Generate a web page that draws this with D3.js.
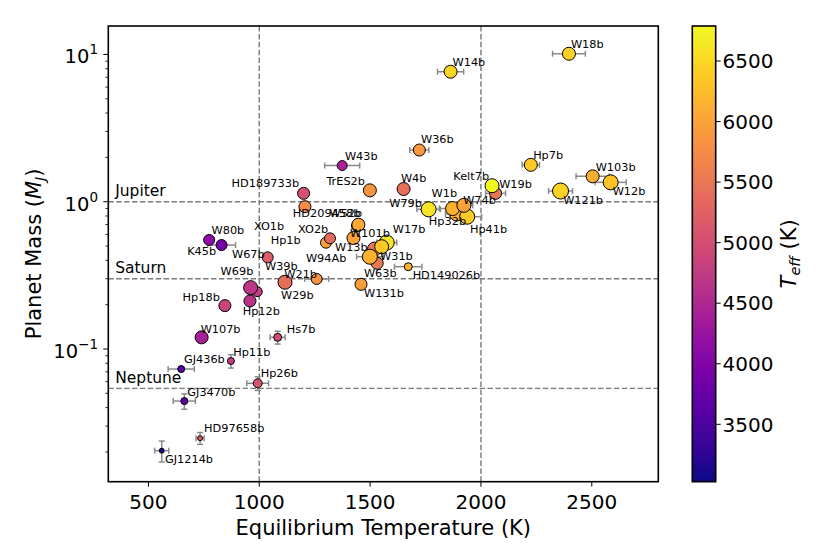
<!DOCTYPE html>
<html><head><meta charset="utf-8">
<script src="https://cdn.jsdelivr.net/npm/d3@7"></script>
<style>
body{margin:0;background:#fff}
svg{display:block}
text{font-family:"DejaVu Sans",sans-serif;fill:#000}
</style>
</head><body>
<svg id="c" width="830" height="554"></svg>
<script>
// ---------- data ----------
const planets = ["GJ1214b","HD97658b","GJ3470b","GJ436b","Hp11b","Hp26b","Hs7b","W107b","Hp18b","Hp12b","W29b","W69b","W39b","W67b","W21b","K45b","W80b","XO1b","HD189733b","W43b","TrES2b","W52b","HD209458b","Hp1b","XO2b","W13b","W131b","W63b","W17b","W31b","W101b","W94Ab","HD149026b","W4b","W36b","W79b","Hp32b","Hp41b","W1b","W74b","W19b","Kelt7b","W14b","W18b","Hp7b","W121b","W103b","W12b"];
const teq = [560,733,662,648,872,993,1083,740,845,958,991,961,1116,1038,1259,830,774,1206,1200,1374,1499,1441,1447,1301,1319,1425,1459,1532,1575,1520,1552,1499,1672,1651,1722,1764,1890,1938,1872,1923,2066,2050,1863,2397,2225,2359,2504,2585];
const teqErr = [32,18,50,59,0,49,34,0,0,0,0,0,0,0,54,63,0,0,0,79,0,0,0,0,0,0,0,0,45,0,0,60,62,0,43,53,50,65,60,40,45,0,59,74,39,54,75,70];
const mass = [0.0204,0.0248,0.0443,0.0731,0.0829,0.0585,0.120,0.120,0.197,0.212,0.245,0.261,0.284,0.419,0.299,0.508,0.550,0.925,1.14,1.76,1.195,0.684,0.698,0.527,0.564,0.567,0.275,0.382,0.528,0.477,0.495,0.423,0.362,1.22,2.244,0.888,0.825,0.791,0.899,0.945,1.14,1.284,7.63,10.11,1.78,1.182,1.487,1.354];
const massErr = [0.0033,0.0023,0.0053,0,0.0087,0.0062,0.012,0,0,0,0,0,0,0,0,0,0,0,0,0,0,0,0,0,0,0,0,0,0,0,0,0,0,0,0,0,0,0,0,0,0,0,0,0,0,0,0,0];
const teff = [3026,5170,3700,3590,4780,5080,4985,4400,4870,4650,4800,4700,5400,5200,5800,3900,4150,5750,5050,4420,5850,5000,6065,5975,5340,6000,5950,5550,6600,5500,6350,6150,6150,5400,5880,6600,6100,6390,6150,5990,5500,6789,6475,6430,6350,6460,6100,6300];
const radiusRJ = [0.17,0.17,0.34,0.34,0.34,0.56,0.44,1.17,1.0,1.0,0.69,1.36,1.36,0.84,0.84,0.84,0.84,1.0,1.0,0.69,1.17,0.84,1.17,0.84,0.84,1.17,1.0,1.0,1.56,1.36,1.36,1.56,0.44,1.17,1.0,1.56,1.36,1.56,1.36,1.36,1.0,1.36,1.17,1.17,1.17,1.78,1.17,1.56];

const refNames = ["Jupiter","Saturn","Neptune"];
const refMass = [1.0, 0.3, 0.054];
const refTeq = [1000, 2000];
const xTicks = [500,1000,1500,2000,2500];
const yMajorTicks = [0.1, 1, 10];
const yTickExp = ["\u22121","0","1"];
const cbTicks = [3500,4000,4500,5000,5500,6000,6500];

// ---------- layout (not data) ----------
const xDomain = [319, 2800], yDomain = [0.01256, 15.6], teffDomain = [3026, 6789];
const L = 108.3, R = 658.3, T = 26, B = 481.7;
const CB = {x0: 692.3, x1: 715.7};
// label offsets [dx, dy] from marker centre to label left/centre
const labelOffset = {
 "W43b":[2.7,-9.7],"HD189733b":[-72,-10.3],"TrES2b":[-43.5,-9.6],"XO1b":[-51,19.3],"W80b":[2.4,-10],
 "K45b":[-34.4,6],"W67b":[-35.7,-3.8],"W39b":[-20,-16.3],"W69b":[-30,-17],"W29b":[23.7,3.3],
 "Hp12b":[-7.3,9.7],"W21b":[-32.4,-5],"Hp18b":[-42.3,-9],"W107b":[-1,-8.3],"Hs7b":[9,-8.3],
 "Hp11b":[2.3,-9.3],"GJ436b":[2.7,-9.7],"Hp26b":[3,-10],"GJ3470b":[3,-9.3],"HD97658b":[4,-10],
 "GJ1214b":[3.3,8.3],"W36b":[1.7,-10.7],"W4b":[-2.7,-10.7],"W79b":[-39.4,-6.6],"Hp32b":[-27.7,6.7],
 "W1b":[-21,-15.2],"W74b":[-0.7,-5.3],"Hp41b":[2.7,12.6],"W19b":[3.6,-9],"Kelt7b":[-38.7,-9.7],
 "W14b":[2,-9.7],"W18b":[2,-9.7],"Hp7b":[2.3,-9.7],"W103b":[3,-9.6],"W12b":[2,8.7],"W121b":[2.6,9],
 "HD209458b":[-65.5,-12.2],"W13b":[-18.5,8.7],"XO2b":[-32,-9.3],"Hp1b":[-55.3,-2.7],"W94Ab":[-64,1.6],
 "W63b":[-13.3,9.4],"HD149026b":[4.4,8.3],"W131b":[3,9],"W31b":[5.5,7],"W101b":[-31.7,-13.4],
 "W17b":[6,-13.2],"W52b":[-27.5,-13.5]
};

const svg = d3.select("#c");
const x = d3.scaleLinear().domain(xDomain).range([L, R]);
const y = d3.scaleLog().domain(yDomain).range([B, T]);
const color = d3.scaleSequential(d3.interpolatePlasma).domain(teffDomain);
const rScale = d3.scaleSqrt().domain([0, 2]).range([0, 8.5]);
const cbY = d3.scaleLinear().domain(teffDomain).range([B, T]);

const data = planets.map((n, i) => ({name:n, teq:teq[i], xe:teqErr[i], m:mass[i], ye:massErr[i], teff:teff[i], r:radiusRJ[i]}));

// reference lines
const grey = "#7a7a7a";
svg.append("g").selectAll("line").data(refMass).join("line")
  .attr("x1", L).attr("x2", R).attr("y1", d => y(d)).attr("y2", d => y(d))
  .attr("stroke", grey).attr("stroke-width", 1.4).attr("stroke-dasharray", "5.5,2.4");
svg.append("g").selectAll("line").data(refTeq).join("line")
  .attr("x1", d => x(d)).attr("x2", d => x(d)).attr("y1", T).attr("y2", B)
  .attr("stroke", grey).attr("stroke-width", 1.4).attr("stroke-dasharray", "5.5,2.4");
svg.append("g").selectAll("text").data(refNames).join("text")
  .attr("x", x(350)).attr("y", (d, i) => y(refMass[i]) - 5.4)
  .attr("font-size", 15.5).text(d => d);

// error bars
const eb = svg.append("g").attr("stroke", "#8a8a8a").attr("stroke-width", 1.5).attr("fill", "none");
const cap = 3;
data.forEach(d => {
  const cx = x(d.teq), cy = y(d.m);
  if (d.xe > 0) {
    const a = x(d.teq - d.xe), b = x(d.teq + d.xe);
    eb.append("line").attr("x1", a).attr("x2", b).attr("y1", cy).attr("y2", cy);
    eb.append("line").attr("x1", a).attr("x2", a).attr("y1", cy - cap).attr("y2", cy + cap);
    eb.append("line").attr("x1", b).attr("x2", b).attr("y1", cy - cap).attr("y2", cy + cap);
  }
  if (d.ye > 0) {
    const a = y(d.m - d.ye), b = y(d.m + d.ye);
    eb.append("line").attr("x1", cx).attr("x2", cx).attr("y1", a).attr("y2", b);
    eb.append("line").attr("x1", cx - cap).attr("x2", cx + cap).attr("y1", a).attr("y2", a);
    eb.append("line").attr("x1", cx - cap).attr("x2", cx + cap).attr("y1", b).attr("y2", b);
  }
});

// markers
svg.append("g").selectAll("circle").data(data).join("circle")
  .attr("cx", d => x(d.teq)).attr("cy", d => y(d.m)).attr("r", d => rScale(d.r))
  .attr("fill", d => color(d.teff)).attr("stroke", "#000").attr("stroke-width", 1);

// labels
svg.append("g").selectAll("text").data(data).join("text")
  .attr("x", d => x(d.teq) + labelOffset[d.name][0])
  .attr("y", d => y(d.m) + labelOffset[d.name][1] + 4)
  .attr("font-size", 11.3).text(d => d.name);

// axes frame
svg.append("rect").attr("x", L).attr("y", T).attr("width", R - L).attr("height", B - T)
  .attr("fill", "none").attr("stroke", "#000").attr("stroke-width", 1.6);

// x ticks
const gx = svg.append("g");
gx.selectAll("line").data(xTicks).join("line")
  .attr("x1", d => x(d)).attr("x2", d => x(d)).attr("y1", B).attr("y2", B + 5)
  .attr("stroke", "#000").attr("stroke-width", 1);
gx.selectAll("text").data(xTicks).join("text")
  .attr("x", d => x(d)).attr("y", 509).attr("text-anchor", "middle")
  .attr("font-size", 20).text(d => d);

// y ticks (log)
const gy = svg.append("g");
const minor = [];
[0.01, 0.1, 1, 10].forEach(dec => { for (let k = 2; k <= 9; k++) { const v = dec * k; if (v >= yDomain[0] && v <= yDomain[1]) minor.push(v); } });
gy.selectAll("line.mi").data(minor).join("line").attr("class", "mi")
  .attr("x1", L - 3).attr("x2", L).attr("y1", d => y(d)).attr("y2", d => y(d))
  .attr("stroke", "#000").attr("stroke-width", 0.8);
gy.selectAll("line.ma").data(yMajorTicks).join("line").attr("class", "ma")
  .attr("x1", L - 5).attr("x2", L).attr("y1", d => y(d)).attr("y2", d => y(d))
  .attr("stroke", "#000").attr("stroke-width", 1);
const yl = gy.selectAll("text").data(yMajorTicks).join("text")
  .attr("x", 98).attr("y", d => y(d) + 9).attr("text-anchor", "end").attr("font-size", 19.5);
yl.append("tspan").text("10");
yl.append("tspan").attr("dy", -9).attr("font-size", 13.5).text((d, i) => yTickExp[i]);

// axis titles
svg.append("text").attr("x", (L + R) / 2).attr("y", 535).attr("text-anchor", "middle")
  .attr("font-size", 21).text("Equilibrium Temperature (K)");
const ylab = svg.append("text").attr("transform", `translate(41,${(T + B) / 2}) rotate(-90)`)
  .attr("text-anchor", "middle").attr("font-size", 21);
ylab.append("tspan").text("Planet Mass (");
ylab.append("tspan").attr("font-style", "italic").text("M");
ylab.append("tspan").attr("font-style", "italic").attr("font-size", 14.5).attr("dy", 3.5).text("J");
ylab.append("tspan").attr("dy", -3.5).text(")");

// colorbar
const defs = svg.append("defs");
const grad = defs.append("linearGradient").attr("id", "cbg").attr("x1", 0).attr("x2", 0).attr("y1", 1).attr("y2", 0);
d3.range(0, 1.0001, 0.05).forEach(t => grad.append("stop").attr("offset", t).attr("stop-color", d3.interpolatePlasma(t)));
svg.append("rect").attr("x", CB.x0).attr("y", T).attr("width", CB.x1 - CB.x0).attr("height", B - T)
  .attr("fill", "url(#cbg)").attr("stroke", "#000").attr("stroke-width", 1.6);
const gc = svg.append("g");
gc.selectAll("line").data(cbTicks).join("line")
  .attr("x1", CB.x1).attr("x2", CB.x1 + 5).attr("y1", d => cbY(d)).attr("y2", d => cbY(d))
  .attr("stroke", "#000").attr("stroke-width", 1);
gc.selectAll("text").data(cbTicks).join("text")
  .attr("x", 722.5).attr("y", d => cbY(d) + 7.3).attr("font-size", 20).text(d => d);
const clab = svg.append("text").attr("transform", `translate(796,${(T + B) / 2}) rotate(-90)`)
  .attr("text-anchor", "middle").attr("font-size", 21);
clab.append("tspan").attr("font-style", "italic").text("T");
clab.append("tspan").attr("font-style", "italic").attr("font-size", 14.5).attr("dy", 3.5).text("eff");
clab.append("tspan").attr("dy", -3.5).text(" (K)");
</script>
</body></html>
